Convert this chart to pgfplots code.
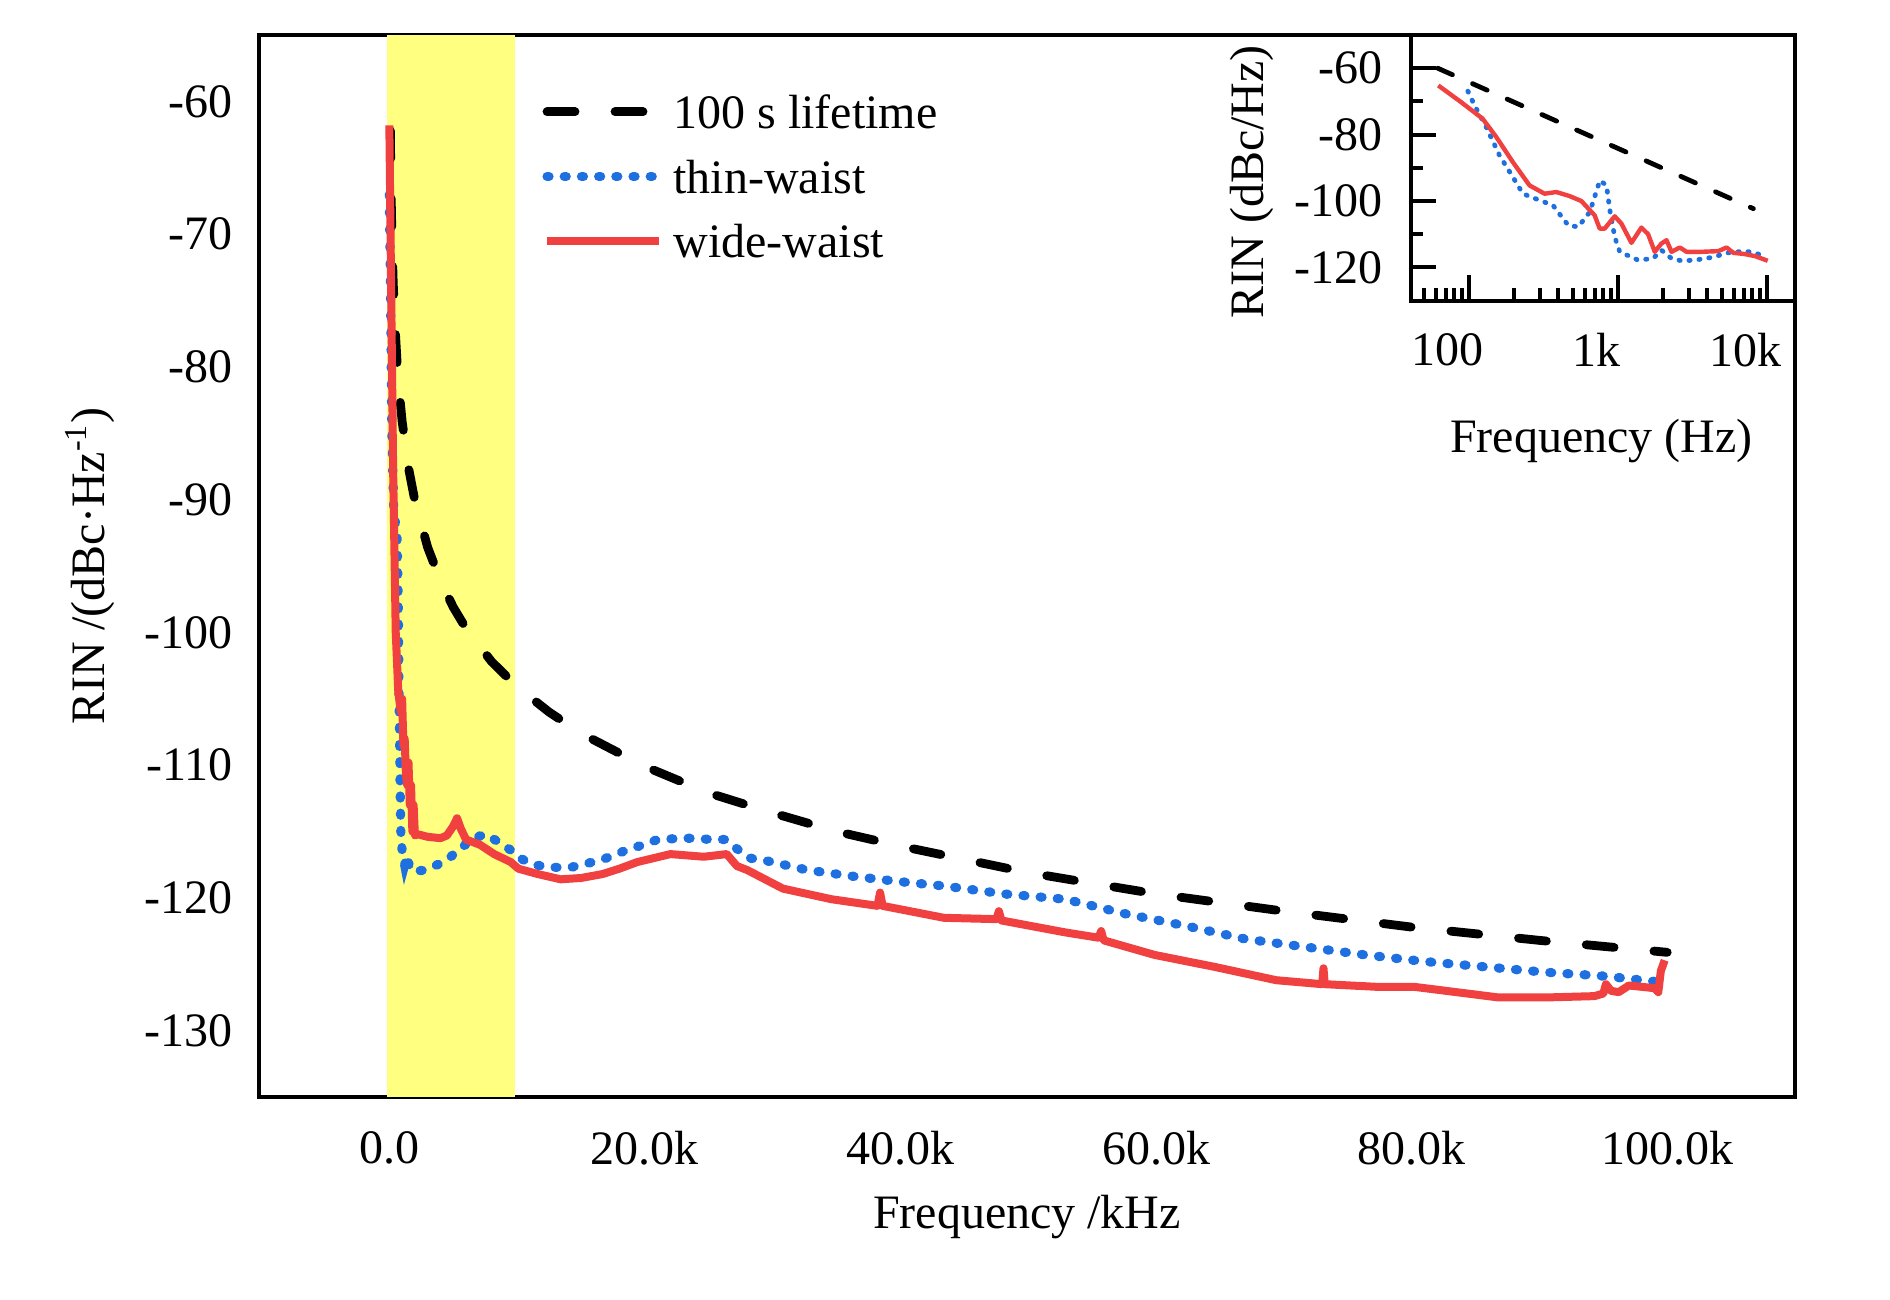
\documentclass[border=0pt]{standalone}
\usepackage{fontspec}
\setmainfont{Liberation Serif}
\usepackage{pgfplots}
\pgfplotsset{compat=1.18}
\definecolor{rinred}{RGB}{240,64,64}
\definecolor{rinblue}{RGB}{30,112,224}
\definecolor{bandyellow}{RGB}{255,255,128}
\newcommand{\lbl}{\fontsize{12}{14}\selectfont}

\begin{document}
\begin{tikzpicture}
\useasboundingbox (-64.75pt,-50.5pt) rectangle (407.75pt,274.25pt);

% main spectrum, frequency in kHz
\begin{axis}[
    at={(0pt,0pt)}, anchor=south west,
    width=384pt, height=265.5pt, scale only axis,
    xmin=-10.2, xmax=110, ymin=-135, ymax=-55,
    axis line style={line width=1.2pt},
    major tick length=0pt, minor tick length=0pt,
    xtick={0,20,40,60,80,100},
    xticklabels={0.0,20.0k,40.0k,60.0k,80.0k,100.0k},
    ytick={-130,-120,-110,-100,-90,-80,-70,-60},
    yticklabels={-130,-120,-110,-100,-90,-80,-70,-60},
    tick label style={font=\lbl},
    xticklabel style={yshift=-5pt},
    yticklabel style={xshift=-3pt},
    label style={font=\lbl},
    xlabel={Frequency /kHz},
    ylabel={RIN /(dBc·Hz\textsuperscript{-1})},
    xlabel style={at={(axis description cs:0.500,-0.113)}, anchor=center},
    ylabel style={at={(axis description cs:-0.110,0.50)}, anchor=center},
    legend style={at={(axis description cs:0.184,0.867)}, anchor=west,
        draw=none, fill=none, inner sep=0pt, row sep=7.8pt, column sep=2.5pt,
        nodes={inner sep=0pt, text depth=0pt}, font=\lbl},
    legend cell align=left,
    legend image code/.code={\draw[#1] (1pt,0pt) -- (29pt,0pt);},
]
\addplot[draw=none, fill=bandyellow, forget plot] coordinates {
    (-0.2,-135) (9.8,-135) (9.8,-55) (-0.2,-55)} -- cycle;

% 100 s lifetime
\addplot[black, line width=2.2pt, dash pattern=on 7pt off 10pt, line cap=round] coordinates {
    (0.08,-62.2) (0.1,-64.1) (0.15,-67.6) (0.2,-70.1) (0.3,-73.6) (0.4,-76.1)
    (0.6,-79.6) (0.8,-82.1) (1.0,-84.1) (1.5,-87.6) (2.0,-90.1) (3.0,-93.6)
    (4.0,-96.1) (5.0,-98.1) (6.0,-99.7) (8.0,-102.2) (10.0,-104.1) (12.5,-106.0)
    (15.0,-107.6) (20.0,-110.1) (25.0,-112.1) (30.0,-113.6) (35.0,-115.0)
    (40.0,-116.1) (50.0,-118.1) (60.0,-119.7) (70.0,-121.0) (80.0,-122.2)
    (90.0,-123.2) (100.0,-124.1)};
\addlegendentry{100 s lifetime}

% thin-waist
\addplot[rinblue, line width=2.3pt, dash pattern=on 0.5pt off 3.8pt, line cap=round] coordinates {
    (0.0,-67) (0.1,-75) (0.2,-85) (0.35,-91) (0.6,-92.5) (0.7,-98) (0.75,-104)
    (0.8,-108) (0.85,-112) (0.9,-115) (1.0,-116.5) (1.2,-117.5) (1.4,-116.8)
    (1.6,-117.8) (2.0,-118) (2.8,-117.9) (4.0,-117.4) (4.8,-116.9) (5.8,-116.1)
    (6.6,-115.5) (7.5,-115.2) (8.4,-115.7) (9.5,-116.4) (10.2,-117) (11.3,-117.5)
    (12.6,-117.7) (14.2,-117.7) (15.5,-117.4) (16.7,-117.1) (17.8,-116.7)
    (18.8,-116.3) (19.9,-116) (21,-115.6) (23.3,-115.5) (25.3,-115.6) (26.3,-115.6)
    (27.2,-116.3) (28.2,-117) (29.5,-117.2) (32.7,-117.9) (36.5,-118.4)
    (40.2,-118.8) (43.4,-119.1) (48.1,-119.7) (52.9,-120.1) (57.6,-121.2)
    (62.3,-122.1) (67,-123.1) (71.7,-123.7) (76.4,-124.3) (81.1,-124.8)
    (85.8,-125.2) (90.5,-125.6) (95.2,-125.9) (100,-126.4)};
\addlegendentry{thin-waist}

% wide-waist
\addplot[rinred, line width=2pt, line join=round] coordinates {
    (0.0,-61.8) (0.15,-75) (0.3,-88) (0.5,-100) (0.7,-104.5) (0.9,-106) (1.0,-105)
    (1.1,-108.5) (1.2,-108) (1.3,-110.8) (1.4,-111.5) (1.5,-109.8) (1.6,-113)
    (1.7,-111.5) (1.8,-115) (1.9,-113) (2.0,-115.3) (2.2,-115.2) (3.0,-115.4)
    (4.0,-115.5) (4.5,-115.3) (5.0,-114.6) (5.3,-114.0) (5.6,-114.8) (6.0,-115.6)
    (7.1,-116.0) (8.2,-116.7) (9.5,-117.3) (10.1,-117.8) (11.6,-118.2)
    (13.4,-118.6) (15.0,-118.5) (16.7,-118.2) (18.0,-117.8) (19.4,-117.3)
    (22.0,-116.7) (24.6,-116.9) (26.4,-116.7) (27.2,-117.6) (28.0,-117.9)
    (29.8,-118.8) (30.8,-119.3) (34.6,-120.1) (38.2,-120.6) (38.4,-119.6)
    (38.6,-120.6) (43.4,-121.5) (47.5,-121.6) (47.7,-121.0) (47.9,-121.7)
    (52.9,-122.6) (55.5,-123.0) (55.7,-122.5) (55.9,-123.2) (59.9,-124.3)
    (64.6,-125.2) (69.4,-126.2) (73.0,-126.5) (73.1,-125.3) (73.2,-126.5)
    (77.3,-126.7) (80.2,-126.7) (83.5,-127.1) (86.8,-127.5) (90.5,-127.5)
    (94.3,-127.4) (95.0,-127.2) (95.2,-126.5) (95.6,-127.0) (96.2,-127.1)
    (97.0,-126.6) (99.0,-126.8) (99.3,-127.1) (99.5,-125.5) (99.8,-124.7)};
\addlegendentry{wide-waist}
\end{axis}

% inset, log frequency in Hz
\begin{axis}[
    at={(288pt,199.1pt)}, anchor=south west,
    width=96pt, height=66.4pt, scale only axis,
    xmode=log, xmin=41, xmax=15500, ymin=-130, ymax=-50,
    axis line style={line width=1pt},
    tick align=inside, xtick pos=bottom, ytick pos=left,
    xtick={100,1000,10000}, xticklabels={100,1k,10k},
    minor xtick={50,60,70,80,90,200,300,400,500,600,700,800,900,
        2000,3000,4000,5000,6000,7000,8000,9000},
    ytick={-120,-100,-80,-60}, yticklabels={-120,-100,-80,-60},
    minor ytick={-110,-90,-70},
    major tick length=6.3pt, minor tick length=3.1pt,
    every tick/.style={line width=1pt, black},
    tick label style={font=\lbl},
    xticklabel style={xshift=-5.3pt, yshift=-4.7pt},
    yticklabel style={xshift=-3.7pt},
    label style={font=\lbl},
    xlabel={Frequency (Hz)},
    ylabel={RIN (dBc/Hz)},
    xlabel style={at={(axis description cs:0.496,-0.528)}, anchor=center},
    ylabel style={at={(axis description cs:-0.413,0.447)}, anchor=center},
]
\addplot[black, line width=1.2pt, dash pattern=on 4pt off 5.5pt, line cap=round] coordinates {
    (62,-60) (8140,-102.3)};
\addplot[rinblue, line width=1.2pt, dash pattern=on 0.3pt off 2.2pt, line cap=round] coordinates {
    (98.7,-66.9) (109.4,-71.2) (131,-77.7) (161,-86.3) (198,-92.8) (231,-97.8)
    (300,-99.8) (368,-101.3) (465,-107.3) (543,-107.8) (650,-103.3) (759,-93.8)
    (841,-95.3) (886,-102.8) (955,-110.8) (1032,-115.3) (1370,-117.8)
    (1729,-117.3) (1967,-114.8) (2297,-117.3) (2682,-118.0) (3297,-117.8)
    (4268,-117.0) (5525,-115.6) (7152,-115.1) (8352,-115.6) (9750,-116.8)};
\addplot[rinred, line width=1.1pt, line join=round] coordinates {
    (62.5,-65.2) (88.8,-70.2) (124,-75.2) (153,-80.7) (198,-88.3) (256,-95.3)
    (323,-97.8) (387,-97.3) (475,-98.5) (570,-100.0) (700,-104.3) (757,-108.3)
    (818,-108.3) (955,-104.6) (1059,-106.8) (1236,-112.6) (1443,-108.0)
    (1600,-110.0) (1774,-115.3) (1967,-112.8) (2126,-111.8) (2297,-115.3)
    (2613,-114.0) (2898,-115.3) (3656,-115.3) (4732,-115.1) (5383,-114.0)
    (5971,-115.6) (7152,-116.0) (8352,-116.6) (10160,-118.0)};
\end{axis}
\end{tikzpicture}
\end{document}
